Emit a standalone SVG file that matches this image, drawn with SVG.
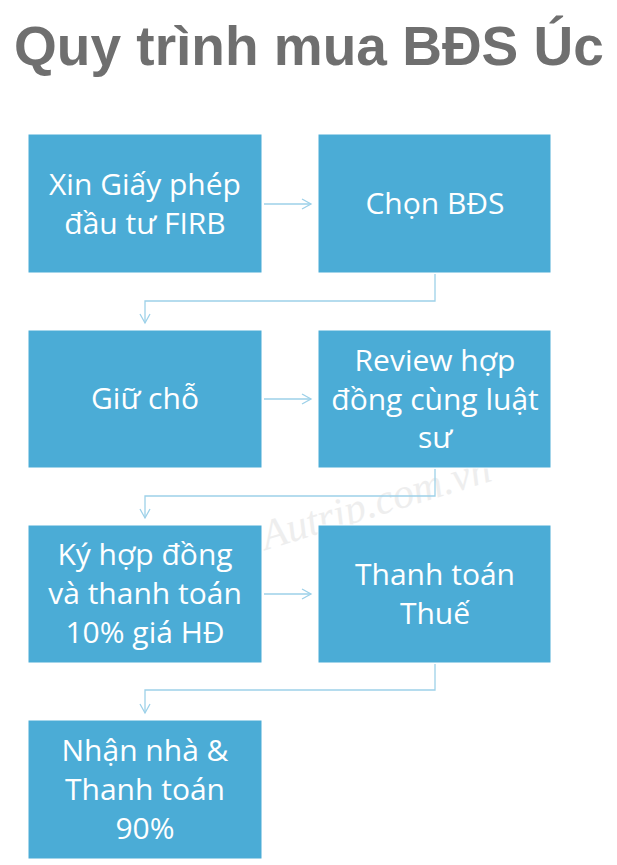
<svg xmlns="http://www.w3.org/2000/svg" width="617" height="865" viewBox="0 0 617 865">
<style>
.box{fill:#4BACD6;stroke:#fff;stroke-width:1}
.t{fill:#fff;font-family:"Open Sans","Liberation Sans",sans-serif;font-size:30px;text-anchor:middle}
.c{fill:none;stroke:#9DD1E9;stroke-width:1.3}
</style>
<defs><marker id="a" markerWidth="12" markerHeight="12" refX="10" refY="6" orient="auto" markerUnits="userSpaceOnUse"><path d="M1,1 L10,6 L1,11" fill="none" stroke="#9DD1E9" stroke-width="1.3"/></marker></defs>
<rect width="617" height="865" fill="#fff"/>
<text x="309" y="65" font-family="Liberation Sans,sans-serif" font-weight="bold" font-size="55" fill="#6f6f6f" text-anchor="middle">Quy trình mua BĐS Úc</text>
<text x="266" y="550" transform="rotate(-17 266 550)" font-family="Liberation Serif,serif" font-style="italic" font-size="42" fill="#eeeeee">Autrip.com.vn</text>
<g id="connectors">
<path class="c" d="M264,204 H311" marker-end="url(#a)"/>
<path class="c" d="M435,274 V301 H145 V323" marker-end="url(#a)"/>
<path class="c" d="M264,399 H311" marker-end="url(#a)"/>
<path class="c" d="M435,469 V496 H145 V518" marker-end="url(#a)"/>
<path class="c" d="M264,594 H311" marker-end="url(#a)"/>
<path class="c" d="M435,664 V690 H145 V713" marker-end="url(#a)"/>
</g>
<g id="n1"><rect class="box" x="28" y="134" width="234" height="139"/><text class="t" x="145" y="195">Xin Giấy phép</text><text class="t" x="145" y="234">đầu tư FIRB</text></g>
<g id="n2"><rect class="box" x="318" y="134" width="233" height="139"/><text class="t" x="435" y="214">Chọn BĐS</text></g>
<g id="n3"><rect class="box" x="28" y="330" width="234" height="138"/><text class="t" x="145" y="409">Giữ chỗ</text></g>
<g id="n4"><rect class="box" x="318" y="330" width="233" height="138"/><text class="t" x="435" y="371">Review hợp</text><text class="t" x="435" y="410">đồng cùng luật</text><text class="t" x="435" y="448">sư</text></g>
<g id="n5"><rect class="box" x="28" y="525" width="234" height="138"/><text class="t" x="145" y="565">Ký hợp đồng</text><text class="t" x="145" y="604">và thanh toán</text><text class="t" x="145" y="643">10% giá HĐ</text></g>
<g id="n6"><rect class="box" x="318" y="525" width="233" height="138"/><text class="t" x="435" y="585">Thanh toán</text><text class="t" x="435" y="624">Thuế</text></g>
<g id="n7"><rect class="box" x="28" y="720" width="234" height="139"/><text class="t" x="145" y="761">Nhận nhà &amp;</text><text class="t" x="145" y="800">Thanh toán</text><text class="t" x="145" y="839">90%</text></g>
</svg>
